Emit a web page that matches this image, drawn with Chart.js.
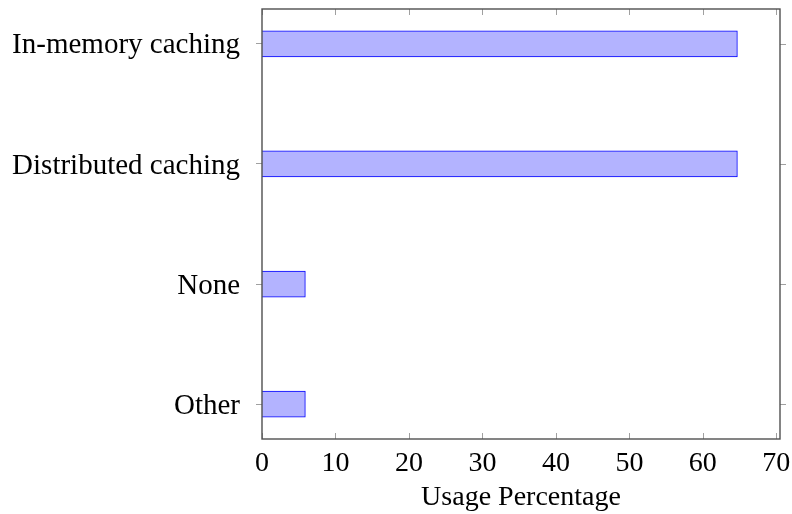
<!DOCTYPE html>
<html>
<head>
<meta charset="utf-8">
<script src="https://cdn.jsdelivr.net/npm/chart.js@4.4.1/dist/chart.umd.min.js"></script>
<style>
  html,body{margin:0;padding:0;background:#fff;}
  #wrap{width:792px;height:514px;}
</style>
</head>
<body>
<div id="wrap"><canvas id="chart" width="792" height="514"></canvas></div>
<script>
// data
const categories=["In-memory caching","Distributed caching","None","Other"];
const usage=[64.7,64.7,5.9,5.9];
const xTicks=[0,10,20,30,40,50,60,70];

const serif="'Liberation Serif','Times New Roman',serif";

// frame + pgfplots-style tick marks
const framePlugin={
  id:"frame",
  afterDraw(chart){
    const ctx=chart.ctx;
    const a=chart.chartArea;
    const xs=chart.scales.x, ys=chart.scales.y;
    ctx.save();
    ctx.strokeStyle="#a0a0a0";
    ctx.lineWidth=1;
    ctx.beginPath();
    xTicks.forEach(v=>{
      const px=Math.round(xs.getPixelForValue(v))+0.5;
      ctx.moveTo(px,a.bottom);ctx.lineTo(px,a.bottom-6);
      ctx.moveTo(px,a.top);ctx.lineTo(px,a.top+6);
    });
    categories.forEach((c,i)=>{
      const py=Math.round(ys.getPixelForValue(i))+0.5;
      ctx.moveTo(a.right,py);ctx.lineTo(a.right+6,py);
    });
    ctx.stroke();
    ctx.strokeStyle="#505050";
    ctx.lineWidth=1.4;
    ctx.strokeRect(a.left,a.top,a.right-a.left,a.bottom-a.top);
    ctx.restore();
  }
};

new Chart(document.getElementById("chart"),{
  type:"bar",
  data:{
    datasets:[{
      data:usage.map((v,i)=>({x:v,y:i})),
      backgroundColor:"#b3b3ff",
      borderColor:"#0000ff",
      borderWidth:1,
      barThickness:26
    }]
  },
  options:{
    indexAxis:"y",
    responsive:false,
    animation:false,
    layout:{padding:{top:9,right:12,left:0,bottom:0}},
    plugins:{legend:{display:false},tooltip:{enabled:false}},
    scales:{
      x:{
        type:"linear",
        min:0,max:70.5,
        afterBuildTicks:s=>{s.ticks=xTicks.map(v=>({value:v}));},
        afterFit:s=>{s.height=75;s.paddingLeft=0;s.paddingRight=0;},
        grid:{display:false},
        border:{display:false},
        ticks:{color:"#000",font:{family:serif,size:28},padding:0,maxRotation:0},
        title:{display:true,text:"Usage Percentage",color:"#000",font:{family:serif,size:28},padding:{top:0,bottom:0}}
      },
      y:{
        type:"linear",
        reverse:true,
        offset:false,
        min:-0.29,max:3.29,
        afterBuildTicks:s=>{s.ticks=categories.map((c,i)=>({value:i}));},
        afterFit:s=>{s.width=262;s.paddingTop=0;s.paddingBottom=0;},
        grid:{offset:false,drawOnChartArea:false,drawTicks:true,tickLength:6,color:"#a0a0a0"},
        border:{display:false},
        ticks:{color:"#000",font:{family:serif,size:29},padding:16,labelOffset:2,callback:v=>categories[v]}
      }
    }
  },
  plugins:[framePlugin]
});
</script>
</body>
</html>
